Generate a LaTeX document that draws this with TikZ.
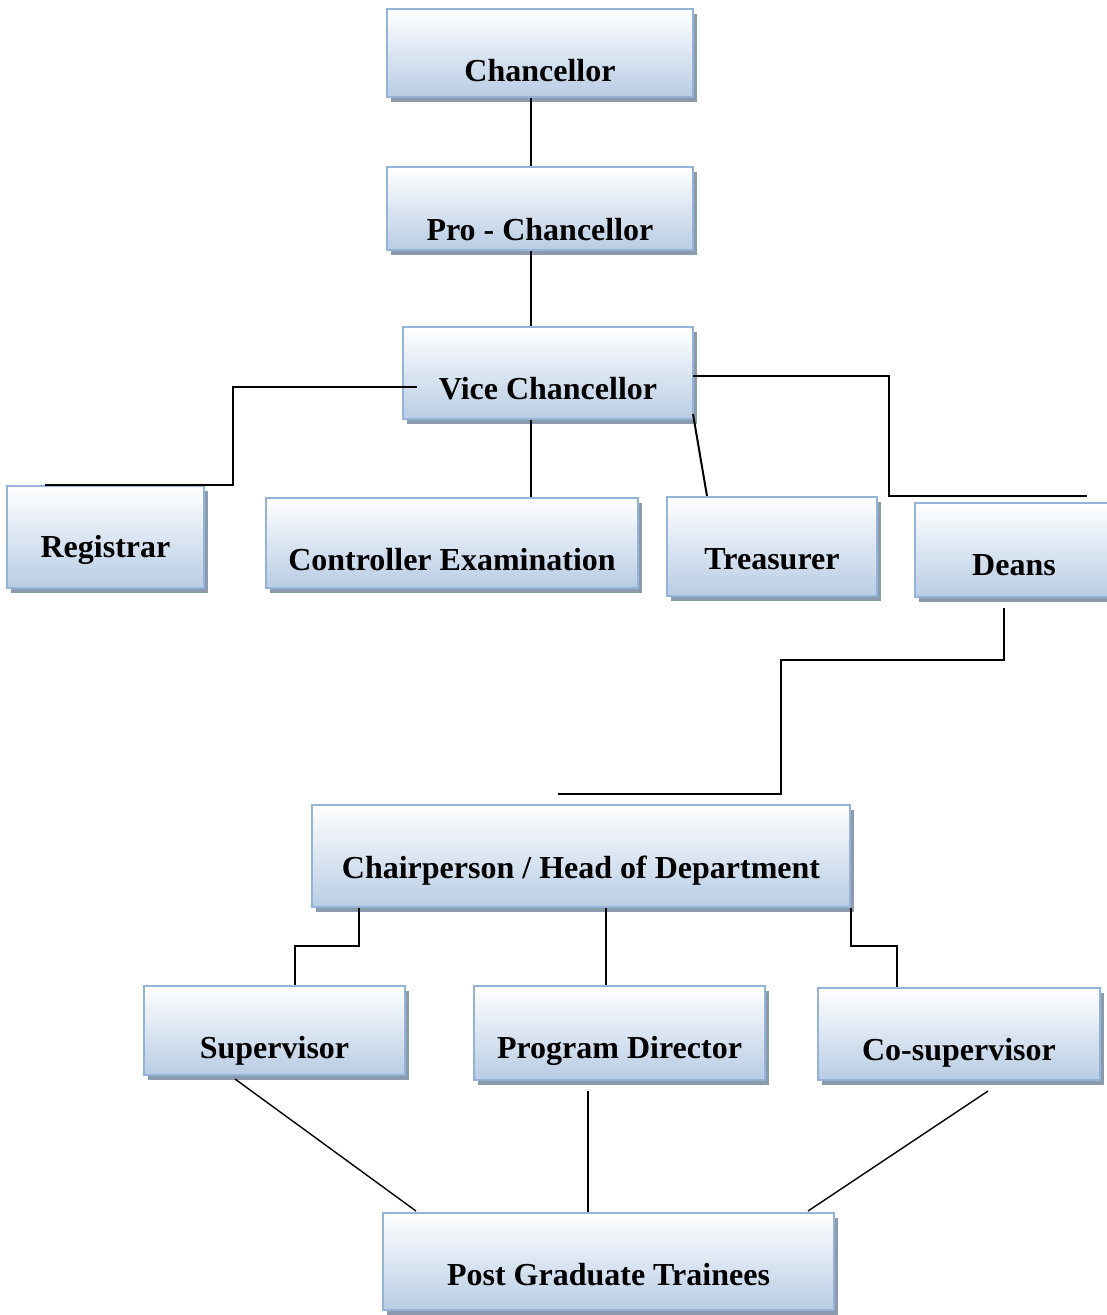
\documentclass[tikz,border=0pt]{standalone}
\usepackage{fontspec}
\setmainfont{Liberation Serif}
\usepackage{xcolor}
\usetikzlibrary{calc,shadows}

\definecolor{boxline}{HTML}{95B3D7}
\definecolor{boxfill}{HTML}{B8CCE4}
\definecolor{boxshadow}{HTML}{8C9AAE}

\tikzset{
	office/.style={draw=boxline, line width=2pt, top color=white, bottom color=boxfill,
		inner sep=0pt, align=flush center, anchor=base,
		font=\bfseries\fontsize{32}{36}\selectfont,
		drop shadow={shadow xshift=4pt, shadow yshift=-5pt, fill=boxshadow, opacity=1}},
	link/.style={line width=2pt},
	thinlink/.style={line width=1.4pt}
}

\begin{document}
\begin{tikzpicture}[x=1pt, y=-1pt]
	\useasboundingbox (0,0) rectangle (1107,1315);

	\node[office, text width=306pt, text height=72pt, text depth=16pt] (chan) at (540,81) {Chancellor};
	\node[office, text width=306pt, text height=73pt, text depth=10pt] (pro) at (540,240) {Pro - Chancellor};
	\node[office, text width=290pt, text height=72pt, text depth=20pt] (vice) at (548,399) {Vice Chancellor};

	\node[office, text width=197pt, text height=71pt, text depth=31pt] (reg) at (105.5,557) {Registrar};
	\node[office, text width=372pt, text height=72pt, text depth=18pt] (ctrl) at (452,570) {Controller Examination};
	\node[office, text width=210pt, text height=72pt, text depth=27pt] (treas) at (772,569) {Treasurer};
	\node[office, text width=198pt, text height=72pt, text depth=22pt] (deans) at (1014,575) {Deans};

	\node[office, text width=538pt, text height=73pt, text depth=29pt] (chair) at (581,878) {Chairperson / Head of Department};

	\node[office, text width=261pt, text height=72pt, text depth=17pt] (sup) at (274.5,1058) {Supervisor};
	\node[office, text width=291pt, text height=72pt, text depth=22pt] (prog) at (619.5,1058) {Program Director};
	\node[office, text width=282pt, text height=72pt, text depth=20pt] (cosup) at (959,1060) {Co-supervisor};

	\node[office, text width=451pt, text height=72pt, text depth=25pt] (pgt) at (608.5,1285) {Post Graduate Trainees};

	\draw[link] ($(chan.south)+(-9,0)$) -- ($(pro.north)+(-9,0)$);
	\draw[link] ($(pro.south)+(-9,0)$) -- ($(vice.north)+(-17,0)$);

	\draw[link] ($(vice.west)+(15,14)$) -| ($(reg.north east)+(28,0)$) -- ($(reg.north west)+(39,0)$);
	\draw[link] ($(vice.south)+(-17,0)$) coordinate (vc) -- (vc |- ctrl.north);
	\draw[link] ($(vice.south east)+(-1,-6)$) -- ($(treas.north west)+(41,0)$);
	\draw[link] ($(vice.north east)+(-1,50)$) -| ($(deans.north west)+(-25,-6)$) -- ($(deans.north west)+(173,-6)$);

	\draw[link] ($(deans.south)+(-10,10)$) -- ++(0,52) -| ($(chair.north)+(200,-10)$) -- ($(chair.north)+(-23,-10)$);

	\draw[link] ($(chair.south west)+(48,0)$) -- ++(0,38) -| ($(sup.north west)+(152,0)$);
	\draw[link] ($(chair.south)+(25,0)$) coordinate (cp) -- (cp |- prog.north);
	\draw[link] (chair.south east) -- ++(0,38) -| ($(cosup.north west)+(80,0)$);

	\draw[thinlink] ($(sup.south west)+(92,3)$) -- ($(pgt.north west)+(34,-1)$);
	\draw[thinlink] ($(prog.south)+(-31.5,10)$) coordinate (pp) -- (pp |- pgt.north);
	\draw[thinlink] ($(cosup.south)+(29,10)$) -- ($(pgt.north east)+(-27,-1)$);
\end{tikzpicture}
\end{document}
